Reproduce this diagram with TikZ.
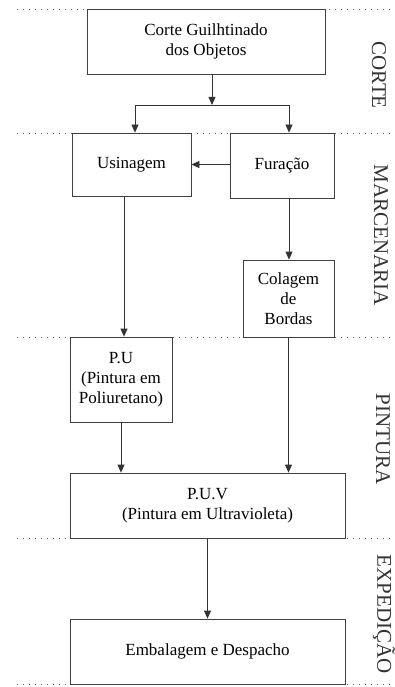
\documentclass[tikz,border=0pt]{standalone}
\usepackage{fontspec}
\setmainfont{Liberation Serif}
\usetikzlibrary{arrows.meta}

\begin{document}
\begin{tikzpicture}[x=1pt, y=-1pt,
        etapa/.style={draw=black!75, line width=0.8pt, rectangle, fill=white, align=center,
            inner sep=0pt, font=\fontsize{17}{20}\selectfont},
        fase/.style={rotate=-90, font=\fontsize{21}{24}\selectfont, text=black!80},
        divisa/.style={black!60, line width=0.9pt, dash pattern=on 0.9pt off 5.1pt},
        seta/.style={draw=black!80, line width=0.8pt, -{Triangle[length=8pt, width=7pt]}}]
    \useasboundingbox (0,0) rectangle (395,687);

    % divisas entre as fases
    \foreach \y in {9, 133, 337, 538, 684}
        \draw[divisa] (17,\y) -- (395,\y);

    % fases
    \node[fase] (fCorte) at (379,75) {CORTE};
    \node[fase] (fMarc) at (381,235) {MARCENARIA};
    \node[fase] (fPint) at (383,439) {PINTURA};
    \node[fase] (fExp) at (384,614) {EXPEDIÇÃO};

    % etapas
    \node[etapa, minimum width=238pt, minimum height=65pt] (corte) at (206,41.5)
        {Corte Guilhtinado\\ dos Objetos};
    \node[etapa, minimum width=119pt, minimum height=63pt] (usinagem) at (131.5,164.5) {Usinagem};
    \node[etapa, minimum width=104pt, minimum height=65pt] (furacao) at (282,165.5) {Furação};
    \node[etapa, minimum width=91pt, minimum height=77pt] (colagem) at (288.5,298.5)
        {Colagem\\ de\\ Bordas};
    \node[etapa, minimum width=102pt, minimum height=85pt] (pu) at (121,379.5)
        {P.U\\ (Pintura em\\ Poliuretano)};
    \node[etapa, minimum width=275pt, minimum height=65pt] (puv) at (207.5,505.5)
        {P.U.V\\ (Pintura em Ultravioleta)};
    \node[etapa, minimum width=275pt, minimum height=65pt] (emb) at (207.5,651.5)
        {Embalagem e Despacho};

    \coordinate (split) at (212,105);

    % fluxo
    \draw[seta] (corte.south -| split) -- (split);
    \draw[seta] (split) -| ([xshift=3.5pt]usinagem.north);
    \draw[seta] (split) -| ([xshift=7pt]furacao.north);
    \draw[seta] (furacao.west |- usinagem.east) -- (usinagem.east);
    \draw[seta] ([xshift=-7.5pt]usinagem.south) -- ([xshift=-7.5pt]usinagem.south |- pu.north);
    \draw[seta] ([xshift=7pt]furacao.south) -- ([xshift=7pt]furacao.south |- colagem.north);
    \draw[seta] (colagem.south) -- (colagem.south |- puv.north);
    \draw[seta] (pu.south) -- (pu.south |- puv.north);
    \draw[seta] (puv.south) -- (emb.north);
\end{tikzpicture}
\end{document}
